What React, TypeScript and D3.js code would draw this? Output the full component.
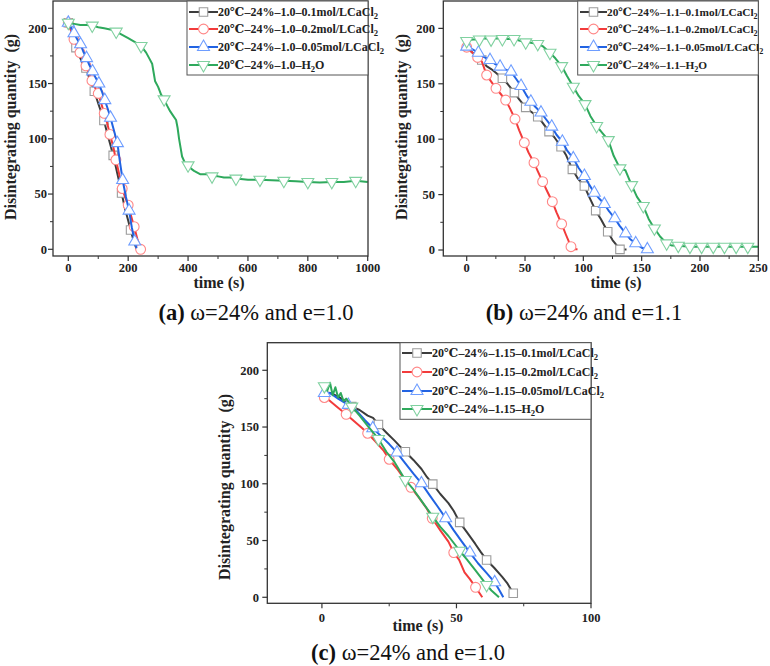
import React from 'react';
import * as d3 from 'd3';

type Pt = [number, number, number?];

// ---------- Panel (a) data: time (s), disintegrating quantity (g), marker flag ----------
const a_01: Pt[] = [[0,205,1],[10,198],[20,186],[25.6,182.5,1],[35,176],[45,170],[59,164,1],[70,155],[80,148],[87,143,1],[100,132],[110,124],[119,116.5,1],[130,105],[140,95],[150,85,1],[160,73],[170,61],[178,51,1],[190,36],[200,26],[208,17.5,1],[218,8],[228,0]];
const a_02: Pt[] = [[0,205,1],[10,197],[19,190,1],[30,183],[39,178,1],[50,171],[59,166,1],[70,159],[79,152.6,1],[90,146],[100,141,1],[110,132],[120,123,1],[130,114],[139,104,1],[150,93],[159,81,1],[170,68],[180,55,1],[190,47],[200,40,1],[210,30],[220,20.5,1],[230,10],[241.6,0,1]];
const a_005: Pt[] = [[0,205,1],[10,200],[19,195.5,1],[30,190],[41,185.5,1],[50,179],[61,173,1],[70,167],[81,161,1],[90,156],[102,150,1],[112,143],[122,135,1],[132,127],[141,119,1],[150,110],[164,96,1],[172,80],[181.5,62.7,1],[192,48],[203,35,1],[212,20],[222,7,1],[228,1]];
const a_h2o: Pt[] = [[0,205,1],[20,204],[40,203],[60,203],[80,202.5,1],[100,201],[120,200],[140,199],[160,197,1],[180,194],[200,191],[220,188],[243,184,1],[260,178],[270,173],[280,168],[285,160],[290,152],[300,147],[310,140],[320,135.7,1],[330,130],[340,125],[350,121],[360,117],[365,110],[370,100],[375,92],[380,84],[390,78],[400,76,1],[410,73],[420,71],[440,68],[460,68],[480,66,1],[500,66],[520,65],[540,65],[560,64,1],[600,63],[640,63,1],[680,62.5],[720,62,1],[760,61.5],[800,61,1],[840,60.5],[880,61,1],[920,61],[960,62,1],[1000,61]];

// ---------- Panel (b) data ----------
const b_01: Pt[] = [[0,183],[5,178],[12.9,171.4,1],[17,166],[21,163.3],[25,160],[30.6,155,1],[35,150],[40.9,142,1],[45,136],[50.6,128.7,1],[55,125],[60.9,120.3,1],[65,115],[70.6,106.8,1],[75,102],[80.9,93.2,1],[85,86],[90.6,72.8,1],[95,65],[100.9,57.7,1],[105,48],[110.6,35.5,1],[115,28],[120.9,16.5,1],[125,9],[131.4,0.6,1],[137,0.5]];
const b_02: Pt[] = [[0,183,1],[5,178],[9.4,173.8,1],[13,170],[17.1,157.9,1],[21,152],[25.1,145.9,1],[29,141],[33.4,135.3,1],[37,128],[41.4,118.2,1],[45,108],[49.4,96.8,1],[53,88],[57.7,78.8,1],[61,71],[65.1,61.7,1],[69,53],[73.4,43.6,1],[77,34],[81.4,23.5,1],[85,14],[89.4,3,1],[92,0.6],[95,0.6]];
const b_005: Pt[] = [[0,183.5,1],[5,181],[10,178,1],[15,174],[20,171.4,1],[24,168],[28.6,165.4,1],[33,163],[38,160.9,1],[42,155],[46.6,148,1],[51,140],[55,133.8,1],[59,129],[63.7,124,1],[68,118],[72.9,111.3,1],[77,104],[82,97.7,1],[86,90],[91.4,82.7,1],[96,74],[100.9,66.8,1],[105,59],[109.4,51.7,1],[114,46],[118,41.5,1],[122,35],[127,28.6,1],[131,22],[136.3,15,1],[140,10],[144.9,6,1],[150,2],[154.9,0.6,1]];
const b_h2o: Pt[] = [[0,188.6,1],[5,190],[10.9,190,1],[15,191],[20.9,190,1],[25,191],[30.6,190.4,1],[35,190.5],[40.6,190.4,1],[45,189],[50.6,187.4,1],[55,187],[60.9,186,1],[65,184],[71.4,178,1],[76,173],[81.4,166,1],[86,157],[91.4,147.4,1],[96,139],[101.4,131.7,1],[106,121],[111.4,111.9,1],[116,106],[121.4,99.2,1],[126,85],[131.4,73.7,1],[136,72],[141.4,58.6,1],[146,48],[151.4,39.7,1],[156,28],[160.9,19.5,1],[166,12],[171.4,6,1],[176,4],[181.4,3.9,1],[191.4,3,1],[201.4,3,1],[211.4,3,1],[221,3,1],[231,3,1],[241,3,1],[250,3]];

// ---------- Panel (c) data ----------
const c_01: Pt[] = [[0.5,181],[3,180],[6,177],[9,172],[11.1,168,1],[14,165],[17,160],[19,158],[21,152.3,1],[24,145],[27,138],[29,133],[31,128.2,1],[34,121],[37,113],[39,106],[41.2,99.7,1],[44,91],[47,83],[49,76],[51.2,66,1],[54,57],[57,47],[59,40],[61.2,32.9,1],[64,26],[67,18],[69,12],[71.1,3.5,1],[72,1]];
const c_02: Pt[] = [[0.9,176,1],[3,173],[6,167],[9,161.2,1],[12,155],[15,149],[17,144.5,1],[20,137],[23,129],[25,121.6,1],[28,113],[31,103],[33.1,96.9,1],[36,88],[39,78],[41,69.6,1],[44,59],[47,49],[49,39.4,1],[51,33],[53,22],[55,16],[57.1,8.8,1],[59.6,0]];
const c_005: Pt[] = [[0.9,180,1],[3,180],[6,175],[9.8,169.5,1],[13,164],[16,156],[18.9,148.9,1],[22,142],[25,135],[27.9,127.5,1],[31,118],[34,109],[37,100.4,1],[40,90],[43,80],[46,69.6,1],[49,59],[52,49],[55,39.4,1],[58,30],[61,22],[64.2,13.2,1],[66,6],[67.4,0]];
const c_h2o: Pt[] = [[0.9,186,1],[2,182],[3,189],[4,178],[5,185],[6,176],[7,180],[8,173],[9,175],[11.1,168,1],[14,160],[17,151],[21,139.5,1],[24,128],[27,119],[31,103.4,1],[34,95],[37,85],[41.2,71,1],[44,62],[47,54],[51.2,41,1],[54,33],[57,24],[61.2,10.9,1],[63,6],[65.8,0]];

// ---------- labels ----------
const legendA = ['20℃–24%–1.0–0.1mol/LCaCl_2', '20℃–24%–1.0–0.2mol/LCaCl_2', '20℃–24%–1.0–0.05mol/LCaCl_2', '20℃–24%–1.0–H_2O'];
const legendB = ['20℃–24%–1.1–0.1mol/LCaCl_2', '20℃–24%–1.1–0.2mol/LCaCl_2', '20℃–24%–1.1–0.05mol/LCaCl_2', '20℃–24%–1.1–H_2O'];
const legendC = ['20℃–24%–1.15–0.1mol/LCaCl_2', '20℃–24%–1.15–0.2mol/LCaCl_2', '20℃–24%–1.15–0.05mol/LCaCl_2', '20℃–24%–1.15–H_2O'];
const captionA = ['(a)', ' ω=24% and e=1.0'];
const captionB = ['(b)', ' ω=24% and e=1.1'];
const captionC = ['(c)', ' ω=24% and e=1.0'];
const yTitle = 'Disintegrating quantity  (g)';
const xTitle = 'time (s)';

const xMajorA = [0, 200, 400, 600, 800, 1000];
const xMinorA = [100, 300, 500, 700, 900];
const xMajorB = [0, 50, 100, 150, 200, 250];
const xMinorB = [25, 75, 125, 175, 225];
const xMajorC = [0, 50, 100];
const xMinorC = [25, 75];
const yMajor = [0, 50, 100, 150, 200];
const yMinor = [25, 75, 125, 175];

const FONT = '"Liberation Serif", "Times New Roman", "DejaVu Serif", serif';

const styles = [
  { line: '#3c3c3c', mark: '#9c9c9c', shape: 'square' },
  { line: '#f23b3b', mark: '#ff8787', shape: 'circle' },
  { line: '#2263e2', mark: '#6e9dff', shape: 'triangle' },
  { line: '#2ea95c', mark: '#80d1a0', shape: 'triangleDown' },
];

function markerPath(shape: string) {
  if (shape === 'square') return d3.symbol(d3.symbolSquare, 72)()!;
  if (shape === 'circle') return d3.symbol(d3.symbolCircle, 76)()!;
  return d3.symbol(d3.symbolTriangle, 62)()!;
}

function Marker({ shape, x, y, color }: { shape: string; x: number; y: number; color: string }) {
  const rot = shape === 'triangleDown' ? ' rotate(180)' : '';
  return <path d={markerPath(shape)} transform={`translate(${x},${y})${rot}`} fill="#fff" stroke={color} strokeWidth={1.1} />;
}

function SubText({ s }: { s: string }) {
  const i = s.indexOf('_');
  if (i < 0) return <>{s}</>;
  const before = s.slice(0, i);
  const sub = s.slice(i + 1, i + 2);
  const after = s.slice(i + 2);
  return (
    <>
      {before}
      <tspan dy={3} fontSize="0.72em">{sub}</tspan>
      {after ? <tspan dy={-3}>{after}</tspan> : null}
    </>
  );
}

type PanelCfg = {
  left: number; right: number; top: number; bottom: number;
  xDomain: [number, number]; yDomain: [number, number];
  xMajor: number[]; xMinor: number[];
  series: Pt[][]; legend: string[];
  leg: { x0: number; x1: number; y0: number; y1: number; rows: number[]; lx0: number; lx1: number; tx: number; fs: number };
  yTitlePos: [number, number]; xTitlePos: [number, number];
  xTickY: number; yTickX: number;
  caption: string[]; captionPos: [number, number];
};

function Panel({ cfg }: { cfg: PanelCfg }) {
  const x = d3.scaleLinear().domain(cfg.xDomain).range([cfg.left, cfg.right]);
  const y = d3.scaleLinear().domain(cfg.yDomain).range([cfg.bottom, cfg.top]);
  const line = d3.line<Pt>().x(d => x(d[0])).y(d => y(d[1]));
  const L = cfg.leg;
  return (
    <g fontFamily={FONT}>
      {cfg.series.map((s, i) => (
        <g key={i}>
          <path d={line(s)!} fill="none" stroke={styles[i].line} strokeWidth={2} strokeLinejoin="round" />
          {s.filter(p => p[2]).map((p, j) => (
            <Marker key={j} shape={styles[i].shape} x={x(p[0])} y={y(p[1])} color={styles[i].mark} />
          ))}
        </g>
      ))}
      <rect x={cfg.left} y={cfg.top} width={cfg.right - cfg.left} height={cfg.bottom - cfg.top} fill="none" stroke="#333" strokeWidth={1.3} />
      {cfg.xMajor.map(v => (
        <g key={'xm' + v}>
          <line x1={x(v)} x2={x(v)} y1={cfg.bottom} y2={cfg.bottom + 5} stroke="#333" strokeWidth={1.2} />
          <text x={x(v)} y={cfg.xTickY} textAnchor="middle" fontSize={12.5} fontWeight="bold" fill="#222">{v}</text>
        </g>
      ))}
      {cfg.xMinor.map(v => (
        <line key={'xn' + v} x1={x(v)} x2={x(v)} y1={cfg.bottom} y2={cfg.bottom + 3} stroke="#333" strokeWidth={1} />
      ))}
      {yMajor.map(v => (
        <g key={'ym' + v}>
          <line x1={cfg.left - 5} x2={cfg.left} y1={y(v)} y2={y(v)} stroke="#333" strokeWidth={1.2} />
          <text x={cfg.yTickX} y={y(v) + 4.3} textAnchor="end" fontSize={12.5} fontWeight="bold" fill="#222">{v}</text>
        </g>
      ))}
      {yMinor.map(v => (
        <line key={'yn' + v} x1={cfg.left - 3} x2={cfg.left} y1={y(v)} y2={y(v)} stroke="#333" strokeWidth={1} />
      ))}
      <text transform={`translate(${cfg.yTitlePos[0]},${cfg.yTitlePos[1]}) rotate(-90)`} textAnchor="middle" fontSize={16} fontWeight="bold" fill="#222" style={{ whiteSpace: 'pre' }}>{yTitle}</text>
      <text x={cfg.xTitlePos[0]} y={cfg.xTitlePos[1]} textAnchor="middle" fontSize={16} fontWeight="bold" fill="#222">{xTitle}</text>
      <rect x={L.x0} y={L.y0} width={L.x1 - L.x0} height={L.y1 - L.y0} fill="#fff" stroke="#555" strokeWidth={1} />
      {cfg.legend.map((t, i) => (
        <g key={'lg' + i}>
          <line x1={L.lx0} x2={L.lx1} y1={L.rows[i]} y2={L.rows[i]} stroke={styles[i].line} strokeWidth={2} />
          <Marker shape={styles[i].shape} x={(L.lx0 + L.lx1) / 2} y={L.rows[i]} color={styles[i].mark} />
          <text x={L.tx} y={L.rows[i] + 4} fontSize={L.fs} fontWeight="bold" fill="#222"><SubText s={t} /></text>
        </g>
      ))}
      <text x={cfg.captionPos[0]} y={cfg.captionPos[1]} textAnchor="middle" fontSize={22.5} fill="#111">
        <tspan fontWeight="bold">{cfg.caption[0]}</tspan>
        <tspan style={{ whiteSpace: 'pre' }}>{cfg.caption[1]}</tspan>
      </text>
    </g>
  );
}

const panelA: PanelCfg = {
  left: 53, right: 368, top: 1, bottom: 256,
  xDomain: [-51.1, 1001], yDomain: [-6.06, 224.7],
  xMajor: xMajorA, xMinor: xMinorA,
  series: [a_01, a_02, a_005, a_h2o], legend: legendA,
  leg: { x0: 187, x1: 368, y0: 1, y1: 75, rows: [12, 29, 47, 65], lx0: 189, lx1: 218, tx: 218, fs: 12 },
  yTitlePos: [16, 127], xTitlePos: [219, 288],
  xTickY: 272, yTickX: 47,
  caption: captionA, captionPos: [256, 320],
};

const panelB: PanelCfg = {
  left: 443.3, right: 758.3, top: 1, bottom: 256,
  xDomain: [-20.06, 250], yDomain: [-5.4, 224.7],
  xMajor: xMajorB, xMinor: xMinorB,
  series: [b_01, b_02, b_005, b_h2o], legend: legendB,
  leg: { x0: 577.7, x1: 758.3, y0: 1, y1: 75, rows: [12, 29, 47, 65], lx0: 580, lx1: 607, tx: 607, fs: 11.3 },
  yTitlePos: [407, 127], xTitlePos: [616, 288],
  xTickY: 272, yTickX: 435,
  caption: captionB, captionPos: [584, 320],
};

const panelC: PanelCfg = {
  left: 267.3, right: 591, top: 342.7, bottom: 603.3,
  xDomain: [-20.3, 100], yDomain: [-5.3, 224.3],
  xMajor: xMajorC, xMinor: xMinorC,
  series: [c_01, c_02, c_005, c_h2o], legend: legendC,
  leg: { x0: 400, x1: 591, y0: 342.7, y1: 419.3, rows: [353, 372, 391, 409], lx0: 402, lx1: 432, tx: 432, fs: 12 },
  yTitlePos: [230, 487], xTitlePos: [418, 631],
  xTickY: 622, yTickX: 259,
  caption: captionC, captionPos: [408, 660],
};

export default function App() {
  return (
    <svg width={770} height={666} viewBox="0 0 770 666" style={{ position: 'absolute', left: 0, top: 0, background: '#fff' }}>
      <rect x={0} y={0} width={770} height={666} fill="#fff" />
      <Panel cfg={panelA} />
      <Panel cfg={panelB} />
      <Panel cfg={panelC} />
    </svg>
  );
}
